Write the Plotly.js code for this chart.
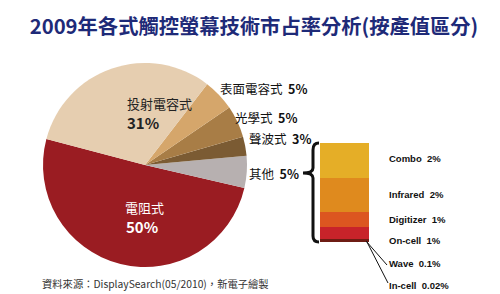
<!DOCTYPE html>
<html><head><meta charset="utf-8">
<script src="https://cdn.plot.ly/plotly-3.0.1.min.js"></script>
<style>html,body{margin:0;padding:0;background:#fff}#c{width:500px;height:294px}</style>
</head><body><div id="c"></div>
<script>
// Pie data (order: counterclockwise starting from left side)
const pieLabels = ['電阻式','其他','聲波式','光學式','表面電容式','投射電容式'];
const pieValues = [50, 5, 3, 5, 5, 31];
const pieColors = ['#9a1c22','#b7b0b0','#7b5b33','#a87d46','#d5a66b','#e6ceb0'];

// Breakdown of "其他" (bottom to top)
const subLabels = ['In-cell','Wave','On-cell','Digitizer','Infrared','Combo'];
const subValues = [0.02, 0.17, 0.65, 0.9, 1.95, 2.0];
const subText   = ['0.02%','0.1%','1%','1%','2%','2%'];
const subColors = ['#5a1a14','#6e1c14','#c8232a','#dc5620','#df8a1e','#e5ae27'];

const W = 500, H = 294;
const px = x => x / W, py = y => 1 - y / H;

const traces = [{
  type: 'pie', labels: pieLabels, values: pieValues, sort: false,
  direction: 'counterclockwise', rotation: 103,
  marker: {colors: pieColors, line: {width: 0}},
  textinfo: 'none', hoverinfo: 'label+percent', showlegend: false,
  domain: {x: [px(43), px(247)], y: [py(267), py(63)]}
}];
subLabels.forEach((l, i) => traces.push({
  type: 'bar', x: ['其他'], y: [subValues[i]], name: l,
  marker: {color: subColors[i], line: {width: 0}},
  xaxis: 'x', yaxis: 'y', showlegend: false, hoverinfo: 'name+y'
}));
const total = subValues.reduce((a, b) => a + b, 0);

const ann = [];
// inside labels
ann.push({text: pieLabels[5], x: px(125), y: py(103), font: {size: 13, color: '#222'}});
ann.push({text: '<b>' + pieValues[5] + '%</b>', x: px(125), y: py(122), font: {size: 15, color: '#222'}});
ann.push({text: pieLabels[0], x: px(123), y: py(207), font: {size: 13, color: '#fff'}});
ann.push({text: '<b>' + pieValues[0] + '%</b>', x: px(124), y: py(226), font: {size: 15, color: '#fff'}});
// outside labels
const outPos = {4: [218, 88], 3: [233, 117], 2: [247, 138], 1: [247, 173]};
[4, 3, 2, 1].forEach(i => ann.push({
  text: pieLabels[i] + '  <b>' + pieValues[i] + '%</b>', x: px(outPos[i][0]), y: py(outPos[i][1]),
  xanchor: 'left', font: {size: 12.5, color: '#111'}
}));
// breakdown labels
const subY = [285, 263, 240, 219, 194, 158];
subLabels.forEach((l, i) => ann.push({
  text: '<b>' + l + '  ' + subText[i] + '</b>', x: px(387), y: py(subY[i]),
  xanchor: 'left', font: {size: 9.5, color: '#111', family: 'Liberation Sans Narrow, Arial, sans-serif'}
}));
// source
ann.push({text: '資料來源：DisplaySearch(05/2010)，新電子繪製', x: px(40), y: py(283), xanchor: 'left',
  font: {size: 10.3, color: '#333'}});
ann.forEach(a => { a.xref = 'paper'; a.yref = 'paper'; a.showarrow = false; if (!a.yanchor) a.yanchor = 'middle'; });

// brace path in paper coords
const P = (x, y) => px(x).toFixed(4) + ',' + py(y).toFixed(4);
const brace = 'M' + P(319, 143) + ' Q' + P(313, 143) + ' ' + P(313, 150) +
  ' L' + P(313, 168) + ' Q' + P(313, 173) + ' ' + P(303, 173) +
  ' Q' + P(313, 173) + ' ' + P(313, 178) + ' L' + P(313, 236) +
  ' Q' + P(313, 242) + ' ' + P(319, 242);

const shapes = [
  {type: 'path', path: brace, xref: 'paper', yref: 'paper', line: {color: '#111', width: 3}},
  {type: 'line', xref: 'paper', yref: 'paper', x0: px(366), y0: py(241), x1: px(387), y1: py(265), line: {color: '#111', width: 1}},
  {type: 'line', xref: 'paper', yref: 'paper', x0: px(367), y0: py(242), x1: px(388), y1: py(283), line: {color: '#111', width: 1}}
];

const layout = {
  width: W, height: H, margin: {l: 0, r: 0, t: 0, b: 0},
  paper_bgcolor: '#fff', plot_bgcolor: 'rgba(0,0,0,0)',
  font: {family: '"Noto Sans CJK TC", "Noto Sans", sans-serif'},
  title: {text: '<b>2009年各式觸控螢幕技術市占率分析(按產值區分)</b>', x: 0.508, xanchor: 'center',
    y: 1 - 27 / H, yanchor: 'middle', font: {size: 20.3, color: '#1e2a78'}},
  barmode: 'stack', bargap: 0,
  xaxis: {domain: [px(320), px(369)], visible: false, fixedrange: true},
  yaxis: {domain: [py(242), py(143)], range: [0, total], visible: false, fixedrange: true},
  annotations: ann, shapes: shapes
};
Plotly.newPlot('c', traces, layout, {displayModeBar: false, staticPlot: true});
</script></body></html>
